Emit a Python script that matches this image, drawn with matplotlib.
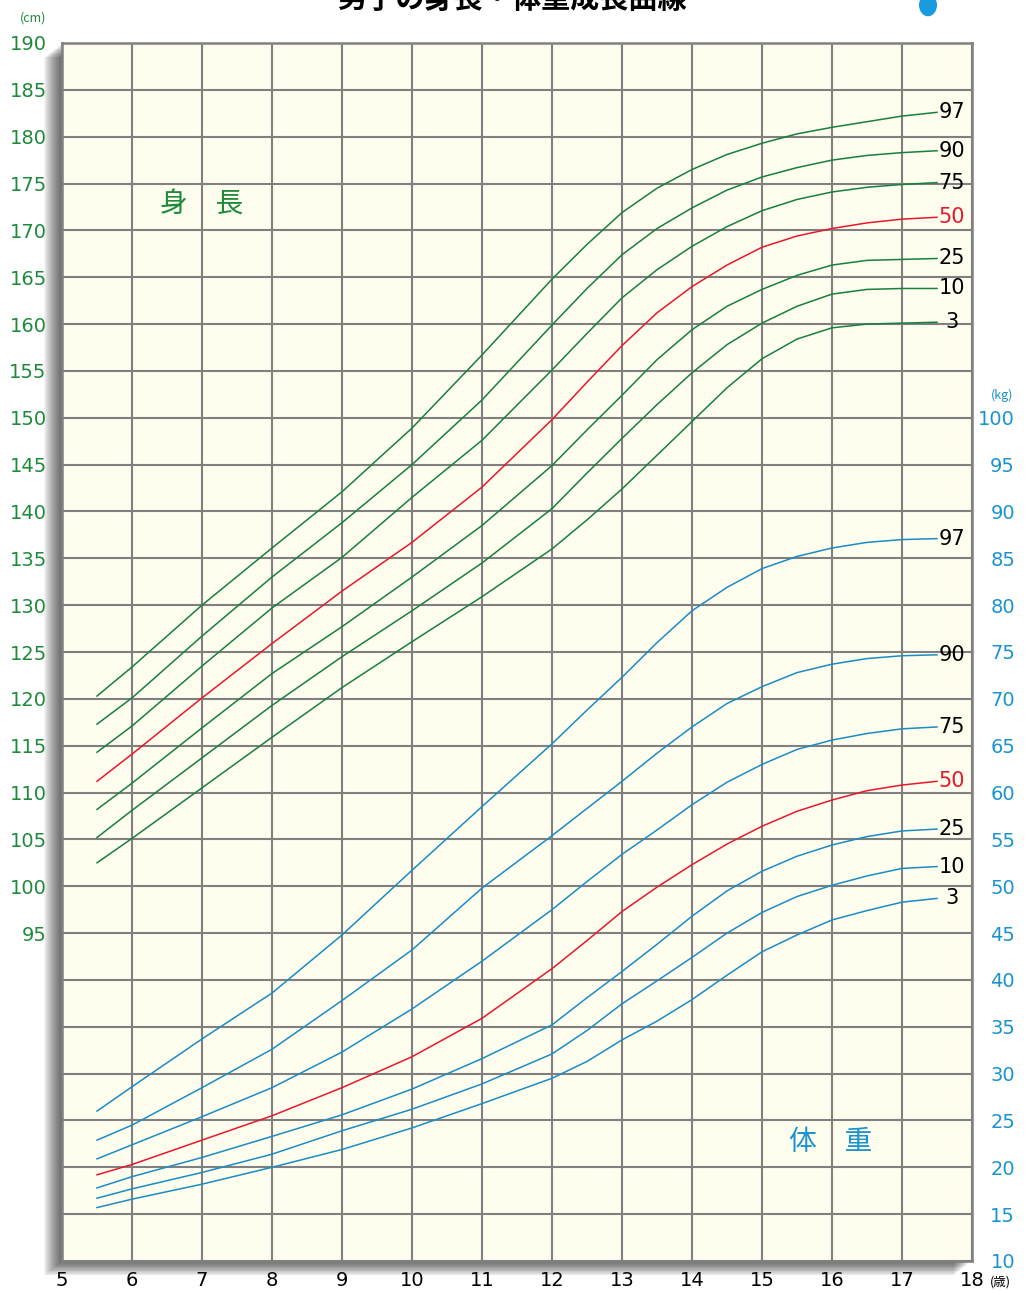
import matplotlib
matplotlib.use("Agg")
import matplotlib.pyplot as plt
from matplotlib.patches import Rectangle, Circle
from matplotlib.ticker import FuncFormatter, MultipleLocator

plt.rcParams['font.family'] = ['Noto Sans CJK JP', 'DejaVu Sans']

# ---------------- data ----------------
ages = [5.5, 6, 7, 8, 9, 10, 11, 12, 12.5, 13, 13.5, 14, 14.5, 15, 15.5, 16, 16.5, 17, 17.5]

percentiles = ["97", "90", "75", "50", "25", "10", "3"]

h97 = [120.3, 123.4, 130.0, 136.1, 142.1, 148.9, 156.7, 164.8, 168.5, 171.9, 174.5, 176.5, 178.1, 179.3, 180.3, 181.0, 181.6, 182.2, 182.6]
h90 = [117.3, 120.1, 126.7, 133.0, 138.8, 145.0, 151.9, 159.9, 163.8, 167.4, 170.2, 172.4, 174.3, 175.7, 176.7, 177.5, 178.0, 178.3, 178.5]
h75 = [114.3, 117.1, 123.5, 129.7, 135.1, 141.5, 147.6, 155.1, 159.0, 162.8, 165.8, 168.3, 170.4, 172.1, 173.3, 174.1, 174.6, 174.9, 175.1]
h50 = [111.2, 114.1, 120.1, 125.9, 131.5, 136.7, 142.6, 149.8, 153.8, 157.7, 161.2, 164.0, 166.3, 168.2, 169.4, 170.2, 170.8, 171.2, 171.4]
h25 = [108.2, 111.0, 116.9, 122.7, 127.7, 133.0, 138.5, 144.9, 148.7, 152.4, 156.2, 159.4, 161.9, 163.7, 165.2, 166.3, 166.8, 166.9, 167.0]
h10 = [105.2, 108.1, 113.7, 119.3, 124.5, 129.4, 134.5, 140.3, 144.1, 147.8, 151.4, 154.8, 157.8, 160.1, 161.9, 163.2, 163.7, 163.8, 163.8]
h3 = [102.5, 105.1, 110.5, 115.9, 121.2, 126.1, 130.9, 136.0, 139.1, 142.4, 146.0, 149.6, 153.2, 156.3, 158.4, 159.6, 160.0, 160.1, 160.2]

w97 = [26.0, 28.6, 33.7, 38.6, 44.8, 51.7, 58.5, 65.2, 68.8, 72.3, 76.0, 79.4, 81.9, 83.9, 85.2, 86.1, 86.7, 87.0, 87.1]
w90 = [22.9, 24.5, 28.5, 32.6, 37.8, 43.2, 49.8, 55.4, 58.3, 61.2, 64.2, 67.0, 69.5, 71.3, 72.8, 73.7, 74.3, 74.6, 74.7]
w75 = [20.9, 22.4, 25.4, 28.5, 32.3, 36.9, 42.0, 47.5, 50.5, 53.4, 56.0, 58.7, 61.1, 63.0, 64.6, 65.6, 66.3, 66.8, 67.0]
w50 = [19.2, 20.3, 22.9, 25.5, 28.5, 31.8, 35.9, 41.2, 44.2, 47.3, 49.9, 52.3, 54.5, 56.4, 58.0, 59.2, 60.2, 60.8, 61.2]
w25 = [17.8, 19.0, 21.05, 23.3, 25.6, 28.35, 31.6, 35.2, 38.1, 40.9, 43.8, 46.8, 49.5, 51.6, 53.2, 54.4, 55.3, 55.9, 56.1]
w10 = [16.7, 17.7, 19.45, 21.4, 23.9, 26.2, 28.9, 32.1, 34.6, 37.45, 39.9, 42.4, 45.0, 47.2, 48.9, 50.1, 51.1, 51.9, 52.1]
w3 = [15.7, 16.6, 18.2, 20.0, 21.9, 24.2, 26.8, 29.5, 31.3, 33.6, 35.6, 37.9, 40.5, 43.0, 44.8, 46.4, 47.4, 48.3, 48.7]

heights = [h97, h90, h75, h50, h25, h10, h3]
weights = [w97, w90, w75, w50, w25, w10, w3]

x_ticks = list(range(5, 19))
cm_ticks = list(range(95, 191, 5))
kg_ticks = list(range(10, 101, 5))

# ---------------- style ----------------
GREEN = "#17803f"
RED = "#e8182c"
BLUE = "#1a8cc6"
GREEN_TXT = "#1f8a3c"
BLUE_TXT = "#1a94d0"
GRID = "#808080"
BG = "#fefdee"

W, H = 1030, 1291
fig = plt.figure(figsize=(W / 100, H / 100), dpi=100)
fig.patch.set_facecolor("white")

L, R, B, T = 62, 972, 30, 1248  # pixel box (bottom-based)
ax = fig.add_axes([L / W, B / H, (R - L) / W, (T - B) / H])

# drop shadow (left & bottom)
for d in range(1, 19):
    fig.patches.append(Rectangle(((L - d) / W, (B - d * 0.8) / H), (R - L) / W, (T - B) / H,
                                 transform=fig.transFigure, facecolor="black",
                                 edgecolor="none", alpha=0.045, zorder=-5))

ax.set_facecolor(BG)
ax.set_xlim(5, 18)
ax.set_ylim(60, 190)
ax.yaxis.set_major_locator(MultipleLocator(5))
ax.yaxis.set_major_formatter(FuncFormatter(lambda v, p: f"{int(round(v))}" if v >= 95 else ""))
ax.set_xticks(x_ticks)
ax.set_xticklabels([str(t) for t in x_ticks])
ax.grid(True, color=GRID, lw=1.5, zorder=0)
ax.set_axisbelow(True)
for s in ax.spines.values():
    s.set_color(GRID)
    s.set_linewidth(1.8)
ax.tick_params(axis="both", length=0)
ax.tick_params(axis="y", colors=GREEN_TXT, labelsize=14, pad=11)
ax.tick_params(axis="x", colors="black", labelsize=14, pad=7)
for lab in ax.get_yticklabels() + ax.get_xticklabels():
    lab.set_family(["DejaVu Sans"])

ax2 = ax.twinx()
ax2.set_ylim(10, 140)
ax2.set_yticks(kg_ticks)
ax2.set_yticklabels([str(t) for t in kg_ticks])
ax2.tick_params(axis="y", length=0, colors=BLUE_TXT, labelsize=14, pad=31)
for lab in ax2.get_yticklabels():
    lab.set_horizontalalignment("right")
    lab.set_family(["DejaVu Sans"])
for s in ax2.spines.values():
    s.set_visible(False)

label_x = 17.71
for p, hv in zip(percentiles, heights):
    c = RED if p == "50" else GREEN
    ax.plot(ages, hv, color=c, lw=1.1, zorder=3, solid_joinstyle="round")
    ax.text(label_x, hv[-1], p, color=(RED if p == "50" else "black"), fontsize=15,
            ha="center", va="center", family=["DejaVu Sans"], zorder=4)

for p, wv in zip(percentiles, weights):
    c = RED if p == "50" else BLUE
    ax2.plot(ages, wv, color=c, lw=1.1, zorder=3, solid_joinstyle="round")
    ax2.text(label_x, wv[-1], p, color=(RED if p == "50" else "black"), fontsize=15,
             ha="center", va="center", family=["DejaVu Sans"], zorder=4)

# section labels
ax.text(7.0, 172.7, "身　長", color=GREEN_TXT, fontsize=20, ha="center", va="center")
ax2.text(15.98, 22.7, "体　重", color=BLUE_TXT, fontsize=20, ha="center", va="center")

# units
fig.text(33 / W, 1 - 18 / H, "(cm)", color=GREEN_TXT, fontsize=9, ha="center", va="center")
fig.text(1002 / W, 1 - 395 / H, "(kg)", color=BLUE_TXT, fontsize=9, ha="center", va="center")
fig.text(1000 / W, 1 - 1282 / H, "(歳)", color="black", fontsize=9, ha="center", va="center")

# title (cut off at top) and dot
fig.text(512 / W, 1 + 1 / H, "男子の身長・体重成長曲線", color="black", fontsize=21,
         fontweight="bold", ha="center", va="center")
fig.patches.append(Circle((928 / W, 1 - 5 / H), 9 / W, transform=fig.transFigure,
                          facecolor="#1a9be0", edgecolor="none"))

fig.savefig("out.png", dpi=100, facecolor="white")
